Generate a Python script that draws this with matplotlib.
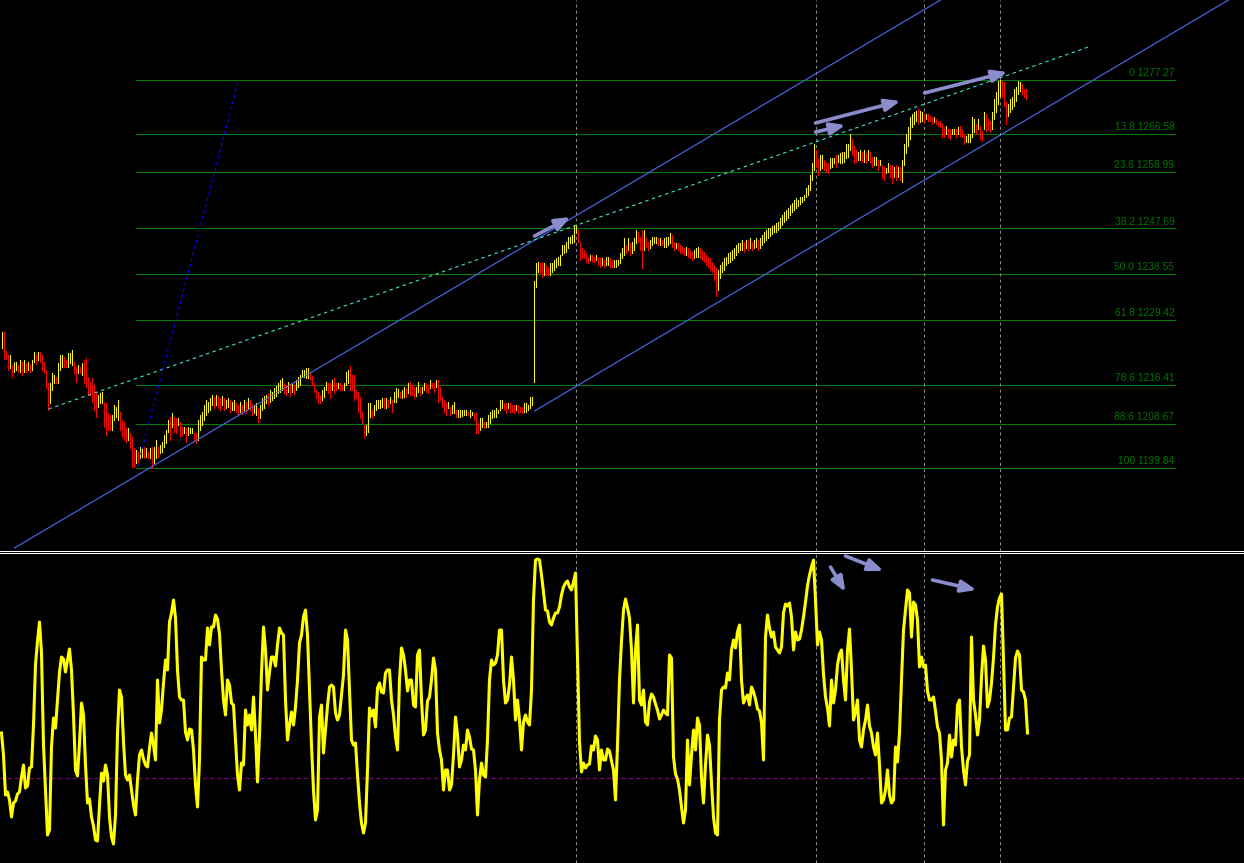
import matplotlib
matplotlib.use("Agg")
import matplotlib.pyplot as plt
import numpy as np

# ---------------- data (prices) ----------------
bar_high = [
1227.0,1227.0,1223.2,1222.4,1222.4,1220.4,1221.0,1221.0,1220.4,1221.4,
1221.0,1221.4,1220.8,1221.0,1220.6,1221.4,1223.0,1222.6,1223.0,1223.0,
1222.4,1221.0,1219.4,1216.8,1216.8,1218.8,1218.4,1218.0,1220.8,1222.4,
1222.4,1222.0,1221.4,1222.8,1222.8,1223.4,1221.0,1220.0,1220.4,1220.0,
1220.8,1221.4,1221.8,1218.0,1217.0,1217.8,1216.4,1214.8,1214.4,1214.8,
1215.0,1213.0,1212.8,1210.8,1210.4,1210.4,1212.4,1212.0,1213.4,1211.0,
1209.4,1209.0,1207.8,1207.8,1206.8,1206.0,1203.8,1203.4,1203.0,1204.0,
1204.0,1204.0,1203.8,1203.0,1203.8,1204.0,1204.0,1205.4,1204.0,1204.4,
1205.0,1206.4,1207.4,1209.4,1210.0,1210.8,1210.0,1209.8,1209.8,1209.0,
1208.0,1208.0,1207.8,1208.0,1207.8,1207.8,1206.8,1206.8,1209.4,1210.4,
1211.0,1212.4,1213.4,1213.0,1213.8,1214.4,1214.0,1214.4,1214.2,1213.8,
1214.2,1213.8,1213.4,1213.8,1213.4,1213.0,1213.4,1212.8,1212.4,1213.0,
1212.4,1213.4,1213.0,1213.8,1213.4,1212.6,1212.4,1212.8,1211.8,1212.4,
1213.8,1214.2,1214.4,1214.6,1215.4,1215.0,1215.8,1216.2,1216.8,1217.4,
1217.8,1216.8,1216.4,1217.0,1216.4,1216.8,1216.4,1217.4,1218.0,1218.4,
1219.4,1219.4,1219.8,1219.8,1219.0,1218.2,1216.8,1215.4,1215.0,1214.4,
1215.4,1216.0,1217.0,1216.8,1216.8,1217.4,1217.8,1216.8,1216.8,1216.8,
1216.4,1216.8,1219.0,1219.4,1220.2,1218.4,1218.4,1215.4,1215.0,1214.0,
1211.0,1208.4,1208.4,1212.8,1212.8,1211.4,1212.4,1213.4,1213.4,1213.4,
1213.8,1213.8,1213.8,1213.4,1214.0,1213.4,1215.0,1215.8,1215.6,1215.0,
1215.4,1216.0,1215.8,1216.8,1217.0,1216.4,1216.0,1216.0,1217.0,1216.0,
1216.0,1216.8,1216.8,1216.4,1217.4,1216.8,1216.8,1217.4,1217.4,1216.0,
1214.0,1213.4,1213.0,1213.0,1212.0,1212.4,1213.0,1211.4,1211.4,1211.4,
1211.4,1211.4,1211.4,1211.0,1211.4,1211.0,1210.8,1210.8,1208.8,1209.8,
1209.8,1209.0,1209.0,1210.4,1211.0,1211.4,1211.4,1211.8,1211.4,1213.4,
1213.4,1212.8,1212.8,1212.8,1212.8,1212.4,1212.4,1212.4,1212.4,1212.0,
1212.0,1212.8,1212.8,1212.4,1214.0,1214.0,1237.2,1240.8,1241.0,1240.8,
1241.0,1240.8,1240.4,1240.0,1240.8,1240.8,1241.4,1241.8,1242.0,1242.4,
1244.4,1244.4,1245.0,1246.0,1246.0,1246.4,1248.4,1248.4,1247.4,1245.0,
1243.8,1243.4,1242.8,1242.0,1242.4,1242.4,1242.0,1242.4,1242.0,1241.8,
1241.8,1241.4,1242.0,1242.0,1241.8,1241.4,1241.4,1241.4,1241.4,1242.8,
1243.8,1245.8,1244.4,1245.8,1244.8,1245.0,1245.8,1247.4,1247.0,1246.0,
1247.4,1247.4,1245.8,1245.0,1245.4,1246.0,1246.0,1246.0,1245.8,1245.8,
1245.4,1245.8,1246.0,1246.0,1246.8,1246.4,1245.0,1244.8,1244.8,1244.4,
1244.0,1243.8,1244.0,1243.8,1243.4,1243.0,1243.4,1243.8,1244.0,1243.8,
1243.4,1243.0,1242.4,1242.0,1241.8,1241.0,1240.4,1239.8,1239.4,1240.4,
1241.0,1241.8,1242.0,1242.8,1243.0,1243.4,1243.8,1244.4,1244.8,1244.8,
1245.4,1245.0,1245.4,1245.4,1245.8,1245.0,1245.4,1245.8,1245.4,1245.8,
1246.4,1247.0,1247.4,1247.8,1247.8,1248.2,1248.4,1248.8,1249.0,1249.8,
1250.4,1251.0,1251.4,1251.8,1252.4,1252.8,1253.4,1253.8,1253.4,1254.0,
1254.0,1254.4,1255.8,1256.4,1258.4,1260.8,1264.4,1263.4,1261.8,1262.4,
1262.4,1261.4,1261.0,1260.8,1261.8,1261.8,1261.8,1262.4,1262.4,1262.8,
1263.0,1263.0,1264.4,1264.4,1266.4,1265.4,1264.0,1263.4,1263.0,1263.4,
1263.0,1263.4,1262.8,1263.4,1263.0,1262.0,1262.0,1262.0,1261.4,1261.4,
1260.4,1260.0,1259.8,1260.8,1260.4,1260.4,1260.0,1260.4,1260.0,1260.0,
1261.4,1264.4,1266.4,1267.8,1269.8,1270.4,1270.8,1271.0,1271.4,1271.0,
1270.8,1270.4,1270.4,1270.4,1270.0,1269.8,1269.8,1269.4,1269.0,1269.0,
1268.4,1267.8,1268.0,1267.4,1267.4,1267.4,1267.4,1267.4,1267.8,1268.0,
1267.4,1266.4,1266.0,1266.4,1266.4,1269.8,1269.4,1268.4,1269.4,1268.0,
1267.0,1270.8,1270.4,1269.4,1269.0,1270.8,1273.4,1274.8,1277.0,1277.27,
1277.0,1276.8,1272.8,1272.4,1273.4,1273.8,1275.4,1275.8,1277.0,1276.8,
1276.4,1275.4,1275.4]

bar_low = [
1223.8,1221.6,1221.6,1219.4,1219.8,1218.0,1219.0,1219.4,1219.0,1219.0,
1218.4,1219.0,1219.0,1219.4,1219.0,1219.4,1221.0,1220.6,1221.4,1221.0,
1219.4,1218.8,1215.8,1211.4,1212.8,1215.4,1216.8,1216.8,1216.8,1219.4,
1220.0,1220.0,1220.0,1220.0,1220.8,1220.4,1218.8,1217.0,1218.8,1218.8,
1218.4,1216.8,1216.0,1214.4,1214.4,1213.0,1211.4,1210.0,1212.0,1212.8,
1212.8,1208.0,1206.4,1207.4,1207.4,1207.4,1209.4,1210.0,1209.4,1207.4,
1206.0,1205.4,1205.0,1205.4,1203.8,1200.0,1200.0,1200.8,1201.0,1201.8,
1202.0,1201.8,1202.0,1201.8,1201.8,1199.84,1200.8,1201.8,1202.0,1202.8,
1203.0,1204.0,1204.8,1207.0,1205.4,1208.0,1207.0,1206.8,1208.4,1206.0,
1206.4,1206.8,1205.0,1206.4,1206.8,1206.8,1205.4,1204.8,1205.4,1207.4,
1208.4,1209.4,1210.4,1211.0,1211.4,1212.4,1211.8,1212.4,1211.8,1211.4,
1212.4,1211.4,1211.8,1212.0,1211.0,1211.4,1211.4,1211.0,1210.4,1211.0,
1210.6,1211.4,1210.8,1211.8,1211.4,1210.4,1210.8,1210.4,1209.0,1209.8,
1211.4,1211.8,1212.8,1212.4,1213.0,1213.4,1213.8,1214.2,1214.8,1215.0,
1215.4,1214.8,1214.4,1215.0,1214.2,1215.0,1214.6,1215.4,1216.0,1216.4,
1218.0,1218.0,1217.8,1217.8,1217.4,1216.4,1215.0,1213.8,1212.8,1212.8,
1213.4,1214.0,1215.4,1214.8,1213.8,1215.4,1214.8,1215.4,1215.8,1215.4,
1215.4,1215.4,1216.4,1216.8,1215.4,1215.4,1213.4,1213.8,1211.0,1209.8,
1208.8,1206.0,1206.4,1207.0,1210.0,1209.8,1210.4,1211.4,1211.8,1211.8,
1212.0,1211.8,1211.8,1212.0,1212.8,1211.0,1213.0,1213.0,1214.0,1213.8,
1213.8,1214.0,1214.0,1214.8,1214.4,1214.4,1213.8,1214.2,1215.0,1214.4,
1214.8,1215.4,1215.0,1214.8,1215.8,1215.8,1215.0,1216.0,1213.0,1213.4,
1212.0,1211.0,1210.4,1211.8,1210.4,1210.8,1210.8,1210.0,1210.0,1210.0,
1210.2,1210.4,1210.4,1210.4,1210.0,1210.4,1209.4,1206.8,1206.8,1207.4,
1208.0,1207.8,1208.0,1208.0,1208.8,1209.8,1210.0,1210.0,1210.8,1211.4,
1211.8,1211.4,1210.8,1211.8,1211.0,1211.0,1210.8,1211.4,1210.8,1211.0,
1210.8,1211.0,1211.0,1211.4,1211.8,1212.4,1217.0,1236.0,1239.0,1238.8,
1238.0,1238.4,1238.4,1238.4,1238.4,1239.0,1239.4,1240.0,1240.4,1240.4,
1242.4,1242.8,1243.0,1243.8,1244.8,1244.8,1245.0,1246.8,1245.0,1241.4,
1241.8,1241.8,1241.0,1240.8,1241.4,1241.0,1241.0,1241.4,1240.4,1240.0,
1240.4,1240.0,1240.4,1240.4,1240.0,1240.0,1240.0,1240.0,1240.4,1240.8,
1241.8,1242.4,1242.8,1243.4,1242.4,1242.8,1243.4,1244.8,1245.0,1243.4,
1239.8,1243.4,1244.0,1243.4,1243.8,1244.4,1244.8,1244.8,1244.4,1244.4,
1244.4,1244.0,1244.0,1244.4,1244.8,1244.0,1243.4,1243.8,1243.4,1242.8,
1242.8,1242.4,1242.4,1242.0,1241.8,1241.4,1241.8,1242.0,1242.0,1241.8,
1241.4,1241.0,1240.4,1240.0,1239.4,1239.0,1237.4,1234.2,1235.4,1237.8,
1239.0,1239.4,1240.4,1240.8,1241.0,1241.4,1241.8,1242.4,1243.0,1243.4,
1243.4,1243.0,1243.8,1243.4,1243.8,1243.4,1243.8,1244.0,1243.4,1243.8,
1244.4,1245.0,1245.4,1245.8,1246.2,1246.6,1247.0,1247.0,1247.4,1247.8,
1248.4,1249.0,1249.4,1249.8,1250.4,1251.0,1251.4,1251.8,1252.2,1252.6,
1253.0,1253.4,1254.0,1254.4,1255.4,1257.4,1259.4,1260.0,1258.4,1259.4,
1259.8,1259.4,1259.0,1258.8,1259.8,1260.0,1260.8,1260.0,1261.0,1260.8,
1260.8,1261.0,1261.8,1262.0,1263.4,1262.4,1260.8,1261.0,1261.4,1261.4,
1261.0,1261.0,1260.8,1261.4,1261.0,1260.0,1260.4,1260.4,1259.4,1260.4,
1257.8,1257.4,1258.8,1259.0,1258.0,1256.8,1258.0,1257.4,1258.0,1257.4,
1257.0,1260.4,1262.8,1264.0,1265.4,1267.8,1268.4,1269.0,1268.4,1268.8,
1269.0,1269.0,1269.4,1269.0,1269.0,1268.4,1268.8,1268.4,1268.0,1267.8,
1265.8,1265.8,1266.4,1265.8,1265.4,1266.4,1266.4,1265.8,1266.4,1266.0,
1265.8,1264.4,1264.8,1264.8,1264.8,1265.8,1266.8,1266.4,1267.4,1265.4,
1265.0,1267.4,1267.0,1267.4,1266.8,1267.4,1269.4,1270.8,1272.4,1274.0,
1273.8,1272.0,1268.4,1270.0,1270.8,1271.4,1272.0,1273.0,1274.4,1275.0,
1274.4,1273.8,1273.4]

osc_values = [
45,23,-17,-14,-22,-39,-25,-23,-16,-14,
1,13,-10,-8,10,11,53,113,137,156,
125,33,-12,-57,-52,31,60,50,78,106,
121,119,106,118,129,108,63,8,2,35,
75,63,13,-25,-21,-39,-48,-62,-63,-27,
5,-3,13,3,-39,-59,-66,-37,45,88,
81,36,3,-2,3,-12,-27,-37,-2,23,
28,19,13,11,30,45,33,18,98,55,
68,95,118,108,156,165,178,160,108,81,
78,78,46,38,49,48,28,-7,-29,18,
121,118,118,150,133,151,151,163,159,144,
108,78,63,98,93,75,73,38,3,-12,
15,13,68,53,63,
48,81,43,-4,43,105,151,128,88,106,
121,121,112,133,150,145,143,78,38,53,
66,53,71,98,135,143,161,168,143,88,
33,-12,-42,-32,61,73,25,48,72,91,
93,91,65,58,63,83,103,148,138,88,
38,33,35,3,-25,-45,-55,-45,8,70,
62,68,51,90,95,86,85,105,108,108,
78,63,41,28,98,130,123,108,87,98,
98,73,71,123,128,78,43,48,77,81,
98,120,108,45,28,18,-12,8,8,-12,
-7,23,61,43,11,18,33,28,48,41,
29,28,8,-37,-2,15,3,1,38,98,
118,113,115,123,148,
148,98,75,78,93,121,98,58,78,58,
28,56,63,56,53,88,178,218,219,218,
203,186,168,167,156,153,160,165,165,171,
183,191,195,197,191,188,196,205,121,36,
6,15,10,13,14,32,28,42,38,8,
28,18,18,29,27,17,8,-22,33,98,
137,168,179,170,160,128,75,128,153,78,
73,88,56,53,76,84,81,74,68,59,
63,68,65,63,123,120,21,4,-1,-12,
-29,-45,-32,38,-7,23,48,28,60,53,
0,-25,13,43,33,-5,-39,-55,-57,58,
88,91,90,105,98,128,138,130,146,153,
98,75,80,83,73,
91,86,79,69,67,55,18,141,163,150,
141,146,131,128,125,131,165,174,172,175,
161,128,146,138,139,148,161,176,192,203,
211,218,178,133,146,138,104,81,70,52,
98,75,88,113,124,128,98,78,128,149,
108,58,66,78,38,31,48,58,73,52,
45,31,23,45,13,-25,-22,-12,8,-17,
-25,-22,31,16,45,98,148,168,188,185,
141,176,173,158,111,121,111,113,87,78,
78,81,67,51,45,18,-47,8,15,43,
21,38,33,73,78,31,8,-7,17,23,
141,78,63,43,58,101,132,118,71,78,
95,120,153,171,180,184,118,48,48,60,
61,90,120,127,123,88,86,78,45]

fib_pct = ["0", "13.8", "23.6", "38.2", "50.0", "61.8", "78.6", "88.6", "100"]
fib_price = [1277.27, 1266.58, 1258.99, 1247.69, 1238.55, 1229.42, 1216.41, 1208.67, 1199.84]
fib_span = [67.0, 586.5]                      # bar index where the fib levels start / end

channel_a = [(6.5, 1183.88), (469.5, 1293.24)]    # channel line (bar, price)
channel_b = [(266.5, 1211.22), (613.5, 1293.24)]
trend_line = [(23.5, 1211.61), (543.5, 1283.86)]
fib_trend = [(68.0, 1200.04), (118.5, 1277.27)]
marker_bars = [287, 407, 461, 499]
osc_level = 0

price_arrows = [((266.5, 1246.13), (284.5, 1249.93)),
                ((407.0, 1266.89), (422.0, 1268.29)),
                ((407.0, 1268.69), (449.5, 1273.08)),
                ((461.5, 1274.68), (503.0, 1278.87))]
osc_arrows = [((414.5, 211), (422.0, 186)),
              ((422.0, 222), (441.0, 207)),
              ((465.5, 198), (487.5, 188))]

# ---------------- figure ----------------
plt.rcParams["lines.scale_dashes"] = False
W, H = 1244, 863
fig = plt.figure(figsize=(W / 100, H / 100), dpi=100, facecolor="black")
ax = fig.add_axes([0, 312 / H, 1, 551 / H])
ax2 = fig.add_axes([0, 0, 1, 310 / H])

for a in (ax, ax2):
    a.set_facecolor("black")
    a.set_xticks([])
    a.set_yticks([])
    for s in a.spines.values():
        s.set_visible(False)
    a.set_xlim(-0.75, 621.25)

ax.spines["bottom"].set_visible(True)
ax.spines["bottom"].set_color("white")
ax.spines["bottom"].set_linewidth(0.75)
ax2.spines["top"].set_visible(True)
ax2.spines["top"].set_color("white")
ax2.spines["top"].set_linewidth(0.75)

ax.set_ylim(1293.235 - 0.19956 * 551, 1293.235)
ax2.set_ylim(-85, 225)

hi = np.array(bar_high)
lo = np.array(bar_low)
x = np.arange(len(hi))
mid = (hi + lo) / 2
up = np.concatenate([[True], mid[1:] >= mid[:-1]])
cols = np.where(up, "#ffff00", "#ff0000")

# fib levels
for pct, pr in zip(fib_pct, fib_price):
    ax.plot(fib_span, [pr, pr], color="#008000", lw=0.75, zorder=1)
    ax.annotate(f"{pct} {pr:.2f}", xy=(fib_span[1], pr), xytext=(0, 1.2),
                textcoords="offset points", ha="right", va="bottom",
                color="#007400", fontsize=7.4, family="Liberation Sans", zorder=5)

# vertical markers
for a in (ax, ax2):
    for b in marker_bars:
        a.axvline(b, color="#8a8a8a", lw=0.75, dashes=(2.2, 2.2), zorder=2)

# price bars
ax.vlines(x, lo, hi, colors=cols, linewidth=0.6, antialiased=False, zorder=3)

# channel & trend lines
def line_through(a, p, q, **kw):
    (x0, y0), (x1, y1) = p, q
    a.plot([x0, x1], [y0, y1], **kw)

line_through(ax, *channel_a, color="#4a6ef0", lw=0.8, zorder=4)
line_through(ax, *channel_b, color="#4a6ef0", lw=0.8, zorder=4)
line_through(ax, *trend_line, color="#40e0d0", lw=0.8, dashes=(2.5, 2.5), zorder=4)
line_through(ax, *fib_trend, color="#0000ff", lw=0.8, dashes=(2.5, 2.0), zorder=4)

arrow_kw = dict(arrowstyle="-|>,head_length=0.75,head_width=0.3", lw=2.6,
                color="#8a8ccc", shrinkA=0, shrinkB=0, mutation_scale=12)
for tail, head in price_arrows:
    ax.annotate("", xy=head, xytext=tail, arrowprops=arrow_kw, zorder=6)

# oscillator
ax2.axhline(osc_level, color="#800080", lw=0.9, dashes=(3.0, 2.2), zorder=1)
ax2.plot(np.arange(len(osc_values)), osc_values, color="#ffff00", lw=2.2, zorder=3)
for tail, head in osc_arrows:
    ax2.annotate("", xy=head, xytext=tail, arrowprops=arrow_kw, zorder=6)

fig.savefig("out.png", dpi=100, facecolor="black")
